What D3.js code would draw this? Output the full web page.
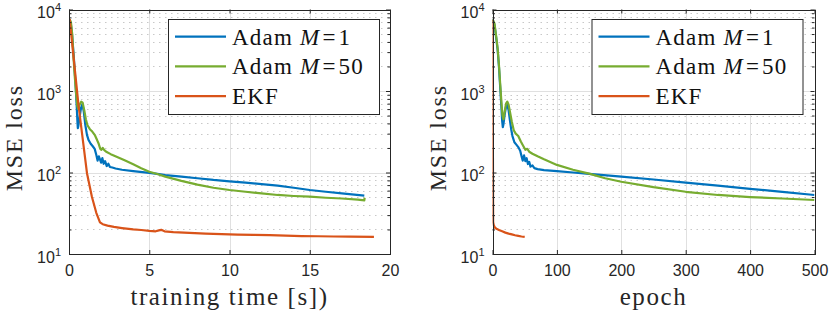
<!DOCTYPE html>
<html>
<head>
<meta charset="utf-8">
<script src="https://cdn.jsdelivr.net/npm/d3@7"></script>
<style>
  body { margin: 0; background: #fff; }
  svg { display: block; }
</style>
</head>
<body>
<div id="chart"></div>
<script>
// ---- data ----
const seriesNames = ["Adam M=1", "Adam M=50", "EKF"];
const timeTicks = [0, 5, 10, 15, 20];
const epochTicks = [0, 100, 200, 300, 400, 500];
const lossTicks = [10, 100, 1000, 10000];

// left panel: [training time s, loss]
const adam1ByTime = [[0.04,7600],[0.12,6500],[0.2,4700],[0.3,2600],[0.4,1300],[0.48,650],[0.52,440],[0.55,350],[0.58,370],
  [0.66,480],[0.75,620],[0.84,690],[0.92,560],[1.02,380],[1.12,290],[1.22,250],[1.35,225],[1.48,210],[1.6,195],
  [1.7,165],[1.78,140],[1.86,158],[1.93,145],[2.0,132],[2.08,150],[2.16,128],[2.25,138],[2.35,120],[2.45,128],
  [2.55,117],[2.7,115],[2.9,112],[3.3,108],[4,104],[5,99],[5.5,96],[6,93],[7,89],[8,85],[9,81],[10,78],[11,75],
  [12,72],[13,69],[14,65],[15,61],[16,58],[17,55.5],[18.4,52]];
const adam50ByTime = [[0.04,7600],[0.12,7000],[0.2,5000],[0.28,2600],[0.36,1500],[0.45,900],[0.52,650],[0.58,600],
  [0.66,680],[0.76,740],[0.85,720],[0.95,580],[1.05,450],[1.15,380],[1.3,340],[1.45,318],[1.6,290],[1.75,250],
  [1.85,225],[1.95,195],[2.02,190],[2.1,200],[2.2,188],[2.35,178],[2.6,168],[3,155],[3.5,140],[4,126],[4.5,113],
  [5,102],[5.5,96],[6,89],[7,79],[8,71],[9,65],[10,61],[11,58],[12,55.5],[13,53],[14,51.5],[15,50.5],[16,49],
  [17,48],[18,46.5],[18.4,45.5],[18.42,49]];
const ekfByTime = [[0.04,7600],[0.6,650],[1.12,98],[1.43,50],[1.7,32],[1.93,24.5],[2.1,23.2],[2.4,22.3],[2.8,21.5],
  [3.3,20.8],[4,20],[4.5,19.7],[5,19.2],[5.4,19],[5.6,19.5],[5.75,19.8],[5.95,19],
  [6.5,18.6],[7.5,18.2],[8.5,17.8],[9.5,17.5],[10.5,17.3],[11.5,17.2],[12.5,17],[13.5,16.8],[14.5,16.6],
  [15.5,16.5],[16.5,16.4],[17.5,16.3],[19,16.2]];

// right panel: [epoch, loss]
const adam1ByEpoch = [[0,7600],[3,6500],[5,5000],[8,3200],[10,2000],[12,1100],[14,600],[15,430],[16,360],[17,390],
  [19,520],[21,640],[23,680],[25,580],[27,440],[29,340],[31,280],[34,235],[37,220],[40,205],[43,185],[45,160],
  [47,140],[49,162],[51,138],[53,150],[55,127],[57,135],[59,118],[62,122],[65,113],[70,110],[80,107],[100,104],
  [125,100],[150,96],[200,89],[250,82],[300,75],[350,69],[400,63],[450,58],[500,53]];
const adam50ByEpoch = [[0,7600],[3,6800],[6,4500],[8,3300],[10,2100],[12,1200],[14,700],[15.5,500],[17,450],
  [19,560],[21,700],[23,740],[25,680],[27,560],[30,420],[33,330],[36,300],[40,280],[44,240],[48,210],[51,190],
  [54,195],[57,180],[62,170],[70,158],[80,145],[100,124],[125,108],[150,97],[175,85],[200,77],[250,66],[300,58],
  [350,53],[400,50],[450,48],[500,46]];
const ekfByEpoch = [[0,7500],[1,24.5],[2,22.5],[4,21],[7,20.2],[10,19.7],[15,19],[20,18.3],[25,17.8],[30,17.4],
  [35,17],[40,16.7],[45,16.4],[50,16.2]];

// ---- styles ----
const colors = ["#0072BD", "#77AC30", "#D95319"];
const sans = "'Liberation Sans', Arial, sans-serif";
const serif = "'Liberation Serif', 'Times New Roman', serif";
const axisColor = "#262626";

const svg = d3.select("#chart").append("svg")
  .attr("width", 830).attr("height", 317);

const yTop = 9.5, yBottom = 254;
const y = d3.scaleLog().domain([10, 10000]).range([yBottom, yTop]);

const minorLoss = [];
[10, 100, 1000].forEach(function(d) { for (let k = 2; k <= 9; k++) minorLoss.push(d * k); });

const panels = [
  {left: 69, right: 390, domain: [0, 20], ticks: timeTicks, label: "training time [s])",
   data: [adam1ByTime, adam50ByTime, ekfByTime]},
  {left: 492.5, right: 814.5, domain: [0, 500], ticks: epochTicks, label: "epoch",
   data: [adam1ByEpoch, adam50ByEpoch, ekfByEpoch]}
];

panels.forEach(function(p, i) {
  const x = d3.scaleLinear().domain(p.domain).range([p.left, p.right]);
  const g = svg.append("g");

  // grid
  g.append("g").selectAll("line").data(minorLoss).join("line")
    .attr("x1", p.left).attr("x2", p.right)
    .attr("y1", function(d) { return Math.round(y(d)) + 0.5; })
    .attr("y2", function(d) { return Math.round(y(d)) + 0.5; })
    .attr("stroke", "#c8c8c8").attr("stroke-width", 1).attr("stroke-dasharray", "1.5,4.5");
  g.append("g").selectAll("line").data(lossTicks).join("line")
    .attr("x1", p.left).attr("x2", p.right)
    .attr("y1", function(d) { return Math.round(y(d)) + 0.5; })
    .attr("y2", function(d) { return Math.round(y(d)) + 0.5; })
    .attr("stroke", "#e0e0e0");
  g.append("g").selectAll("line").data(p.ticks).join("line")
    .attr("x1", function(d) { return Math.round(x(d)) + 0.5; })
    .attr("x2", function(d) { return Math.round(x(d)) + 0.5; })
    .attr("y1", yTop).attr("y2", yBottom)
    .attr("stroke", "#e0e0e0");

  // curves
  const clipId = "clip" + i;
  svg.append("clipPath").attr("id", clipId).append("rect")
    .attr("x", p.left).attr("y", yTop).attr("width", p.right - p.left).attr("height", yBottom - yTop);
  const line = d3.line().x(function(d) { return x(d[0]); }).y(function(d) { return y(d[1]); });
  g.append("g").attr("clip-path", "url(#" + clipId + ")")
    .selectAll("path").data(p.data).join("path")
    .attr("d", line)
    .attr("fill", "none")
    .attr("stroke", function(d, j) { return colors[j]; })
    .attr("stroke-width", 2.2)
    .attr("stroke-linejoin", "round");

  // axes (ticks inside, MATLAB style)
  function style(sel) {
    sel.select(".domain").remove();
    sel.selectAll("line").attr("stroke", axisColor);
    sel.attr("font-family", sans).attr("font-size", 16);
    sel.selectAll("text").attr("fill", axisColor);
  }
  g.append("g").attr("transform", `translate(0,${yBottom})`)
    .call(d3.axisBottom(x).tickValues(p.ticks).tickSizeInner(-4).tickSizeOuter(0).tickPadding(11))
    .call(style);
  g.append("g").attr("transform", `translate(0,${yTop})`)
    .call(d3.axisTop(x).tickValues(p.ticks).tickSizeInner(-4).tickSizeOuter(0).tickFormat(""))
    .call(style);
  const yAx = g.append("g").attr("transform", `translate(${p.left},0)`)
    .call(d3.axisLeft(y).tickValues(lossTicks).tickSizeInner(-4).tickSizeOuter(0).tickPadding(8))
    .call(style);
  yAx.selectAll(".tick text").attr("dy", "0.5em").each(function(d) {
    const t = d3.select(this).text("");
    t.append("tspan").text("10");
    t.append("tspan").attr("font-size", 11).attr("dy", -7).text(Math.round(Math.log10(d)));
  });
  g.append("g").attr("transform", `translate(${p.left},0)`)
    .call(d3.axisLeft(y).tickValues(minorLoss).tickSizeInner(-2.5).tickSizeOuter(0).tickFormat(""))
    .call(style);
  g.append("g").attr("transform", `translate(${p.right},0)`)
    .call(d3.axisRight(y).tickValues(lossTicks).tickSizeInner(-4).tickSizeOuter(0).tickFormat(""))
    .call(style);
  g.append("g").attr("transform", `translate(${p.right},0)`)
    .call(d3.axisRight(y).tickValues(minorLoss).tickSizeInner(-2.5).tickSizeOuter(0).tickFormat(""))
    .call(style);

  // box
  g.append("rect")
    .attr("x", Math.round(p.left) + 0.5).attr("y", Math.round(yTop) + 0.5)
    .attr("width", Math.round(p.right) - Math.round(p.left)).attr("height", Math.round(yBottom) - Math.round(yTop))
    .attr("fill", "none").attr("stroke", axisColor);

  // axis labels
  g.append("text")
    .attr("transform", `translate(${p.left - 47},${(yTop + yBottom) / 2 + 6}) rotate(-90)`)
    .attr("text-anchor", "middle")
    .attr("font-family", serif).attr("font-size", 24).attr("letter-spacing", 1.8).attr("fill", axisColor)
    .text("MSE loss");
  g.append("text")
    .attr("x", (p.left + p.right) / 2).attr("y", 305)
    .attr("text-anchor", "middle")
    .attr("font-family", serif).attr("font-size", 25).attr("letter-spacing", 1.6).attr("fill", axisColor)
    .text(p.label);

  // legend
  const lx = p.left + 99, ly = 19;
  const leg = g.append("g").attr("transform", `translate(${lx},${ly})`);
  leg.append("rect").attr("x", 0.5).attr("y", 0.5).attr("width", 211).attr("height", 95)
    .attr("fill", "#fff").attr("stroke", axisColor);
  const rows = leg.selectAll("g.row").data(seriesNames).join("g")
    .attr("class", "row")
    .attr("transform", function(d, j) { return `translate(0,${17.7 + j * 29.7})`; });
  rows.append("line").attr("x1", 7).attr("x2", 58)
    .attr("stroke", function(d, j) { return colors[j]; }).attr("stroke-width", 2.2);
  rows.append("text").attr("x", 64).attr("y", 7.8)
    .attr("font-family", serif).attr("font-size", 23).attr("letter-spacing", 1.2).attr("fill", "#111")
    .each(function(d) {
      const t = d3.select(this);
      const m = d.match(/^(Adam) M=(\d+)$/);
      if (m) {
        t.append("tspan").text(m[1]);
        t.append("tspan").attr("dx", 7).attr("font-style", "italic").text("M");
        t.append("tspan").attr("dx", 2).text("=");
        t.append("tspan").attr("dx", 2).text(m[2]);
      } else {
        t.text(d);
      }
    });
});
</script>
</body>
</html>
